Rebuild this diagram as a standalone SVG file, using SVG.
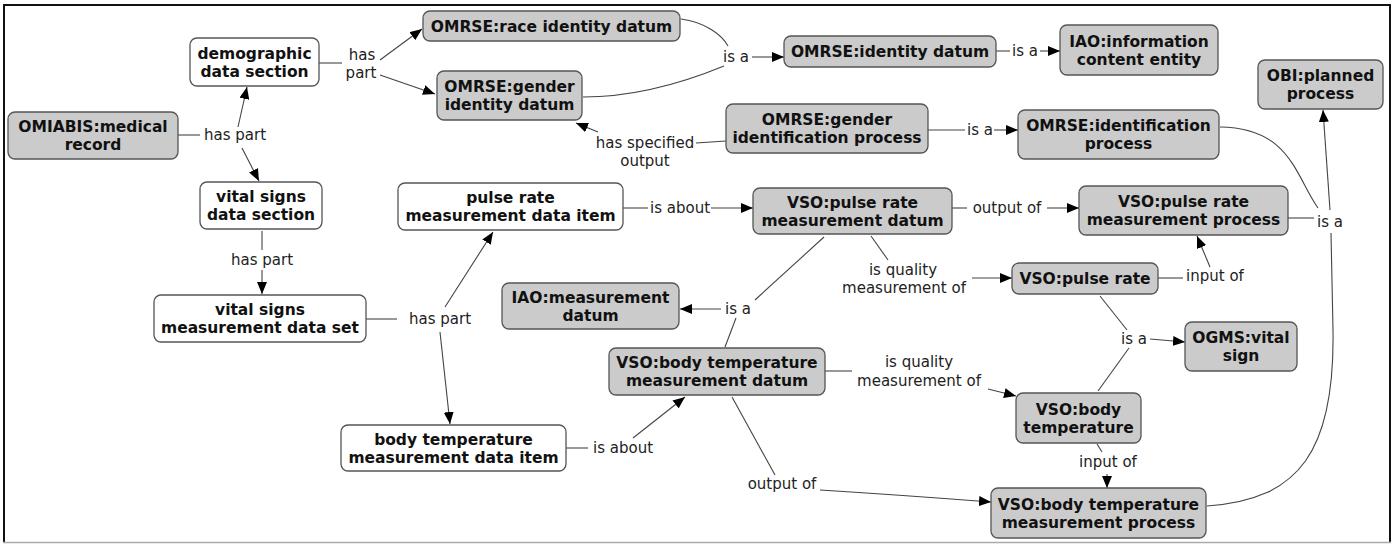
<svg xmlns="http://www.w3.org/2000/svg" width="1396" height="544" viewBox="0 0 1396 544">
<style>
.g rect{fill:#cbcbcb;stroke:#555;stroke-width:1.3}
.w rect{fill:#fff;stroke:#555;stroke-width:1.3}
.nt{font-family:"DejaVu Sans",Verdana,sans-serif;font-weight:bold;font-size:15.5px;fill:#111;text-anchor:middle}
.lb{font-family:"DejaVu Sans",Verdana,sans-serif;font-size:15px;fill:#222;text-anchor:middle}
#connectors path{fill:none;stroke:#444;stroke-width:1.1}
.a{marker-end:url(#ah)}
</style>
<defs>
<marker id="ah" viewBox="0 0 12 10" refX="12" refY="5" markerWidth="12" markerHeight="10" orient="auto" markerUnits="userSpaceOnUse"><path d="M0,0 L12,5 L0,10 z" fill="#000"/></marker>
</defs>
<rect x="0" y="0" width="1396" height="544" fill="#fff"/>
<path d="M4,543 L4,5 L1390,5 L1390,543" fill="none" stroke="#111" stroke-width="2"/>
<line x1="3" y1="542.5" x2="1391" y2="542.5" stroke="#aaa" stroke-width="1.5"/>

<g id="connectors">
<path d="M178,135 L200,135"/>
<path class="a" d="M238,127 L247,87"/>
<path class="a" d="M242,148 L259,181"/>
<path d="M319,63 L342,63"/>
<path class="a" d="M380,60 L422,29"/>
<path class="a" d="M380,75 L435,94"/>
<path d="M681,19 C705,22 722,35 728,46"/>
<path d="M583,97 C640,97 690,80 724,66"/>
<path class="a" d="M752,57 L784,57"/>
<path d="M996,51 L1010,51"/>
<path class="a" d="M1040,51 L1060,51"/>
<path d="M928,130 L965,130"/>
<path class="a" d="M994,130 L1018,130"/>
<path d="M726,141 L696,143"/>
<path class="a" d="M598,132 L576,123"/>
<path d="M1220,127 C1290,128 1295,175 1318,208"/>
<path d="M1288,218 L1314,218"/>
<path class="a" d="M1330,210 L1323,110"/>
<path d="M1331,233 L1333,330 C1335,450 1300,500 1207,506"/>
<path d="M623,208 L648,208"/>
<path class="a" d="M711,208 L753,208"/>
<path d="M952,208 L967,208"/>
<path class="a" d="M1047,208 L1079,208"/>
<path d="M871,236 L888,260"/>
<path class="a" d="M972,278 L1012,278"/>
<path d="M824,237 L755,300"/>
<path d="M725,347 L736,318"/>
<path class="a" d="M721,309 L680,309"/>
<path d="M262,231 L262,250"/>
<path class="a" d="M262,270 L262,294"/>
<path d="M366,319 L397,319"/>
<path class="a" d="M445,307 L493,232"/>
<path class="a" d="M440,332 L450,424"/>
<path d="M566,448 L588,448"/>
<path class="a" d="M633,438 L685,397"/>
<path d="M825,371 L852,371"/>
<path class="a" d="M988,389 L1016,396"/>
<path d="M732,397 L775,475"/>
<path class="a" d="M820,490 Q900,495 991,502"/>
<path d="M1158,278 L1183,278"/>
<path class="a" d="M1210,267 L1197,236"/>
<path d="M1100,296 L1127,330"/>
<path d="M1098,391 L1129,348"/>
<path class="a" d="M1150,339 L1185,342"/>
<path d="M1097,444 L1102,452"/>
<path class="a" d="M1107,474 L1107,488"/>
</g>

<g id="labels">
<text class="lb" x="235" y="140">has part</text>
<text class="lb" x="362" y="60">has</text>
<text class="lb" x="361" y="78">part</text>
<text class="lb" x="736" y="62">is a</text>
<text class="lb" x="1025" y="56">is a</text>
<text class="lb" x="980" y="135">is a</text>
<text class="lb" x="645" y="148">has specified</text>
<text class="lb" x="645" y="166">output</text>
<text class="lb" x="1330" y="227">is a</text>
<text class="lb" x="680" y="213">is about</text>
<text class="lb" x="1007" y="213">output of</text>
<text class="lb" x="903" y="275">is quality</text>
<text class="lb" x="904" y="293">measurement of</text>
<text class="lb" x="738" y="314">is a</text>
<text class="lb" x="262" y="265">has part</text>
<text class="lb" x="440" y="324">has part</text>
<text class="lb" x="623" y="453">is about</text>
<text class="lb" x="919" y="367">is quality</text>
<text class="lb" x="919" y="386">measurement of</text>
<text class="lb" x="782" y="489">output of</text>
<text class="lb" x="1215" y="281">input of</text>
<text class="lb" x="1134" y="344">is a</text>
<text class="lb" x="1108" y="467">input of</text>
</g>

<g id="n_medical" class="g"><rect x="8" y="112" width="170" height="47" rx="7"/><text class="nt" x="93" y="132">OMIABIS:medical</text><text class="nt" x="93" y="150">record</text></g>
<g id="n_demo" class="w"><rect x="190" y="38" width="129" height="48" rx="7"/><text class="nt" x="254.5" y="58.5">demographic</text><text class="nt" x="254.5" y="76.5">data section</text></g>
<g id="n_vsds" class="w"><rect x="200" y="182" width="122" height="47" rx="7"/><text class="nt" x="261" y="202">vital signs</text><text class="nt" x="261" y="220">data section</text></g>
<g id="n_vsmds" class="w"><rect x="154" y="295" width="212" height="47" rx="7"/><text class="nt" x="260" y="315">vital signs</text><text class="nt" x="260" y="333">measurement data set</text></g>
<g id="n_btitem" class="w"><rect x="341" y="425" width="225" height="46" rx="7"/><text class="nt" x="453.5" y="444.5">body temperature</text><text class="nt" x="453.5" y="462.5">measurement data item</text></g>
<g id="n_pritem" class="w"><rect x="398" y="183" width="225" height="47" rx="7"/><text class="nt" x="510.5" y="203">pulse rate</text><text class="nt" x="510.5" y="221">measurement data item</text></g>
<g id="n_race" class="g"><rect x="423" y="11" width="257" height="30" rx="7"/><text class="nt" x="551.5" y="31.5">OMRSE:race identity datum</text></g>
<g id="n_gender" class="g"><rect x="437" y="71" width="145" height="49" rx="7"/><text class="nt" x="509.5" y="92">OMRSE:gender</text><text class="nt" x="509.5" y="110">identity datum</text></g>
<g id="n_identity" class="g"><rect x="784" y="36" width="212" height="31" rx="7"/><text class="nt" x="890" y="57">OMRSE:identity datum</text></g>
<g id="n_ice" class="g"><rect x="1060" y="25" width="158" height="50" rx="7"/><text class="nt" x="1139" y="46.5">IAO:information</text><text class="nt" x="1139" y="64.5">content entity</text></g>
<g id="n_obi" class="g"><rect x="1258" y="60" width="125" height="49" rx="7"/><text class="nt" x="1320.5" y="81">OBI:planned</text><text class="nt" x="1320.5" y="99">process</text></g>
<g id="n_gip" class="g"><rect x="726" y="104" width="202" height="49" rx="7"/><text class="nt" x="827" y="125">OMRSE:gender</text><text class="nt" x="827" y="143">identification process</text></g>
<g id="n_ip" class="g"><rect x="1018" y="110" width="201" height="49" rx="7"/><text class="nt" x="1118.5" y="131">OMRSE:identification</text><text class="nt" x="1118.5" y="149">process</text></g>
<g id="n_prdatum" class="g"><rect x="753" y="188" width="199" height="46" rx="7"/><text class="nt" x="852.5" y="207.5">VSO:pulse rate</text><text class="nt" x="852.5" y="225.5">measurement datum</text></g>
<g id="n_prproc" class="g"><rect x="1079" y="186" width="209" height="49" rx="7"/><text class="nt" x="1183.5" y="207">VSO:pulse rate</text><text class="nt" x="1183.5" y="225">measurement process</text></g>
<g id="n_pr" class="g"><rect x="1012" y="263" width="146" height="31" rx="7"/><text class="nt" x="1085" y="284">VSO:pulse rate</text></g>
<g id="n_iaomd" class="g"><rect x="502" y="283" width="177" height="46" rx="7"/><text class="nt" x="590.5" y="302.5">IAO:measurement</text><text class="nt" x="590.5" y="320.5">datum</text></g>
<g id="n_btdatum" class="g"><rect x="609" y="348" width="216" height="47" rx="7"/><text class="nt" x="717" y="368">VSO:body temperature</text><text class="nt" x="717" y="386">measurement datum</text></g>
<g id="n_ogms" class="g"><rect x="1185" y="322" width="112" height="49" rx="7"/><text class="nt" x="1241" y="343">OGMS:vital</text><text class="nt" x="1241" y="361">sign</text></g>
<g id="n_bt" class="g"><rect x="1016" y="393" width="125" height="50" rx="7"/><text class="nt" x="1078.5" y="414.5">VSO:body</text><text class="nt" x="1078.5" y="432.5">temperature</text></g>
<g id="n_btproc" class="g"><rect x="991" y="488" width="215" height="50" rx="7"/><text class="nt" x="1098.5" y="509.5">VSO:body temperature</text><text class="nt" x="1098.5" y="527.5">measurement process</text></g>
</svg>
